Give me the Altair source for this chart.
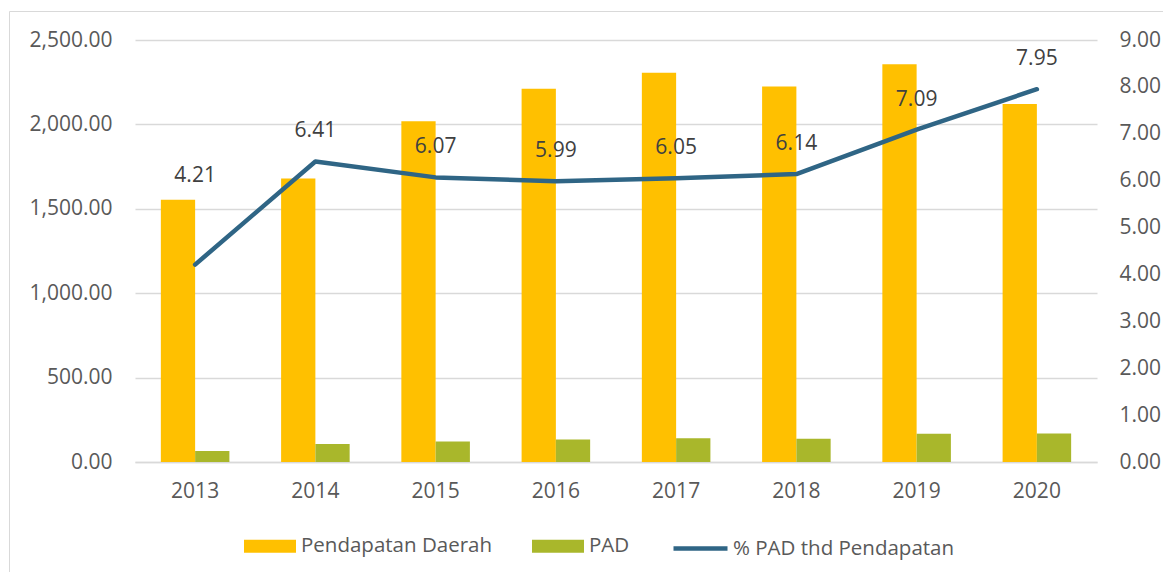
import altair as alt
import pandas as pd

# ---- data ----
tahun = ["2013", "2014", "2015", "2016", "2017", "2018", "2019", "2020"]
pendapatan_daerah = [1554, 1680, 2018, 2211, 2306, 2225, 2357, 2121]
pad = [65, 107, 122, 133, 140, 137, 167, 169]
persen_pad = [4.21, 6.41, 6.07, 5.99, 6.05, 6.14, 7.09, 7.95]
seri_bar = ["Pendapatan Daerah", "PAD"]
seri_line = "% PAD thd Pendapatan"
left_ticks = [0, 500, 1000, 1500, 2000, 2500]
right_ticks = [0, 1, 2, 3, 4, 5, 6, 7, 8, 9]

FONT = "Open Sans"
AX = "#595959"
GRID = "#D9D9D9"
C_ORANGE = "#FFC000"
C_GREEN = "#A9B72B"
C_LINE = "#2F6585"

bars_df = pd.DataFrame({
    "Tahun": tahun * 2,
    "Seri": [seri_bar[0]] * len(tahun) + [seri_bar[1]] * len(tahun),
    "Nilai": pendapatan_daerah + pad,
})
line_df = pd.DataFrame({"Tahun": tahun, "Persen": persen_pad, "Seri": [seri_line] * len(tahun)})

xscale = alt.Scale(domain=tahun, paddingInner=0.43, paddingOuter=0.215)
xaxis = alt.Axis(title=None, labelFont=FONT, labelFontSize=21, labelColor=AX,
                 domainColor=GRID, domainWidth=1.5, ticks=False, tickSize=0,
                 labelPadding=18, grid=False, labelAngle=0)

frame = alt.Chart(pd.DataFrame({"f": [0]})).mark_rect(
    fill="transparent", stroke=GRID, strokeWidth=1
).encode(
    x=alt.value(-125.5), x2=alt.value(1300), y=alt.value(-28.5), y2=alt.value(800)
)

bars = alt.Chart(bars_df).mark_bar().encode(
    x=alt.X("Tahun:N", scale=xscale, axis=xaxis, sort=tahun),
    xOffset=alt.XOffset("Seri:N", scale=alt.Scale(domain=seri_bar, paddingInner=0, paddingOuter=0)),
    y=alt.Y("Nilai:Q", scale=alt.Scale(domain=[0, 2500], nice=False),
            axis=alt.Axis(title=None, values=left_ticks, format=",.2f", orient="left",
                          labelFont=FONT, labelFontSize=21, labelColor=AX,
                          domain=False, ticks=False, tickSize=0, labelPadding=23,
                          grid=True, gridColor=GRID, gridWidth=1.5)),
    color=alt.Color("Seri:N", scale=alt.Scale(domain=seri_bar, range=[C_ORANGE, C_GREEN]),
                    legend=alt.Legend(orient="none", legendX=109, legendY=480,
                                      direction="horizontal", title=None,
                                      symbolType="M-1,-0.25H1V0.25H-1Z", symbolSize=2704,
                                      symbolStrokeWidth=0, labelFont=FONT, labelFontSize=20.5,
                                      labelColor=AX, labelOffset=5, columnPadding=40,
                                      labelLimit=500, padding=0)),
)

yright = alt.Y("Persen:Q", scale=alt.Scale(domain=[0, 9], nice=False),
               axis=alt.Axis(title=None, values=right_ticks, format=".2f", orient="right",
                             labelFont=FONT, labelFontSize=21, labelColor=AX,
                             domain=False, ticks=False, tickSize=0, labelPadding=22,
                             grid=False))

line = alt.Chart(line_df).mark_line(strokeWidth=4.5, strokeJoin="round", strokeCap="round").encode(
    x=alt.X("Tahun:N", sort=tahun),
    y=yright,
    stroke=alt.Stroke("Seri:N", scale=alt.Scale(domain=[seri_line], range=[C_LINE]),
                      legend=alt.Legend(orient="none", legendX=536, legendY=479, title=None,
                                        symbolType="stroke", symbolSize=2916,
                                        symbolStrokeWidth=4.5, labelFont=FONT,
                                        labelFontSize=20.5, labelColor=AX, labelOffset=3,
                                        labelLimit=500, padding=0)),
)

labels = alt.Chart(line_df).transform_filter(alt.datum.Tahun != "2013").mark_text(
    font=FONT, fontSize=21, color="#404040", dy=-30, baseline="middle"
).encode(
    x=alt.X("Tahun:N", sort=tahun),
    y=alt.Y("Persen:Q"),
    text=alt.Text("Persen:Q", format=".2f"),
)
label_first = alt.Chart(line_df).transform_filter(alt.datum.Tahun == "2013").mark_text(
    font=FONT, fontSize=21, color="#404040", dy=-89, baseline="middle"
).encode(
    x=alt.X("Tahun:N", sort=tahun),
    y=alt.Y("Persen:Q"),
    text=alt.Text("Persen:Q", format=".2f"),
)

left_layer = alt.layer(frame, bars)
right_layer = alt.layer(line, labels, label_first)

chart = alt.layer(left_layer, right_layer).resolve_scale(
    y="independent", color="independent", stroke="independent"
).properties(
    width=962, height=422,
    autosize=alt.AutoSizeParams(type="none"),
    padding={"left": 127, "top": 32, "right": 66, "bottom": 110},
    background="white",
).configure_view(strokeWidth=0)

chart.save("out.html", embed_options={"renderer": "svg", "actions": False})
